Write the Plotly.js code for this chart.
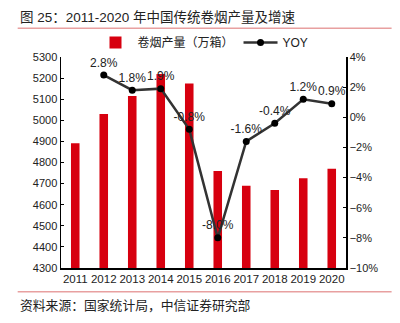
<!DOCTYPE html>
<html><head><meta charset="utf-8">
<script src="https://cdn.plot.ly/plotly-3.0.1.min.js"></script>
<style>body{margin:0;background:#fff}#c{width:400px;height:323px}</style>
</head><body><div id="c"></div>
<script>
const years = ['2011','2012','2013','2014','2015','2016','2017','2018','2019','2020'];
const output = [4891, 5030, 5115, 5220, 5175, 4760, 4690, 4670, 4725, 4770];
const yoyYears = ['2012','2013','2014','2015','2016','2017','2018','2019','2020'];
const yoy = [2.8, 1.8, 1.9, -0.8, -8.0, -1.6, -0.4, 1.2, 0.9];

const F = 'Liberation Sans, Arial, "Noto Sans CJK SC", sans-serif';
const traces = [
  {type:'bar', x:years, y:output, name:'卷烟产量（万箱）', marker:{color:'#d7000f'}, width:0.3, yaxis:'y'},
  {type:'scatter', mode:'lines+markers+text', x:yoyYears, y:yoy, name:'YOY', yaxis:'y2',
   line:{color:'#333333', width:2.5}, marker:{color:'#000', size:7},
   text: yoy.map(v=>v.toFixed(1)+'%'), textposition:'top center',
   textfont:{family:F, size:12, color:'#222'}, cliponaxis:false}
];
const layout = {
  width:400, height:323, margin:{l:61, r:54, t:57, b:55},
  paper_bgcolor:'#fff', plot_bgcolor:'#fff',
  font:{family:F, size:11, color:'#222'},
  showlegend:true,
  legend:{orientation:'h', x:0.5, xanchor:'center', y:1.0, yanchor:'bottom', font:{family:F, size:12, color:'#222'}, itemwidth:34, bgcolor:'rgba(0,0,0,0)'},
  xaxis:{type:'category', range:[-0.5,9.5], showline:true, linecolor:'#000', linewidth:1.5, ticks:'', tickfont:{size:11.5}, fixedrange:true},
  yaxis:{range:[4300,5300], dtick:100, showline:true, linecolor:'#000', linewidth:1.5, ticks:'inside', ticklen:3, tickcolor:'#000', showgrid:false, zeroline:false, tickfont:{size:11}},
  yaxis2:{range:[-10,4], dtick:2, overlaying:'y', side:'right', ticksuffix:'%', showline:true, linecolor:'#000', linewidth:1.5, ticks:'inside', ticklen:3, tickcolor:'#000', showgrid:false, zeroline:false, tickfont:{size:11}},
  shapes:[
    {type:'line', xref:'paper', yref:'paper', x0:-0.152, x1:1.16, y0:1.136, y1:1.136, line:{color:'#e8a0a0', width:1.5}},
    {type:'line', xref:'paper', yref:'paper', x0:-0.152, x1:1.16, y0:-0.112, y1:-0.112, line:{color:'#e8a0a0', width:1.5}}
  ],
  annotations:[
    {text:'图 25：2011-2020 年中国传统卷烟产量及增速', xref:'paper', yref:'paper', x:-0.15, y:1.185, xanchor:'left', yanchor:'middle', showarrow:false, font:{family:F, size:13.5, color:'#222'}},
    {text:'资料来源：国家统计局，中信证券研究部', xref:'paper', yref:'paper', x:-0.15, y:-0.18, xanchor:'left', yanchor:'middle', showarrow:false, font:{family:F, size:12.8, color:'#222'}}
  ]
};
Plotly.newPlot('c', traces, layout, {displayModeBar:false, staticPlot:true});
</script></body></html>
